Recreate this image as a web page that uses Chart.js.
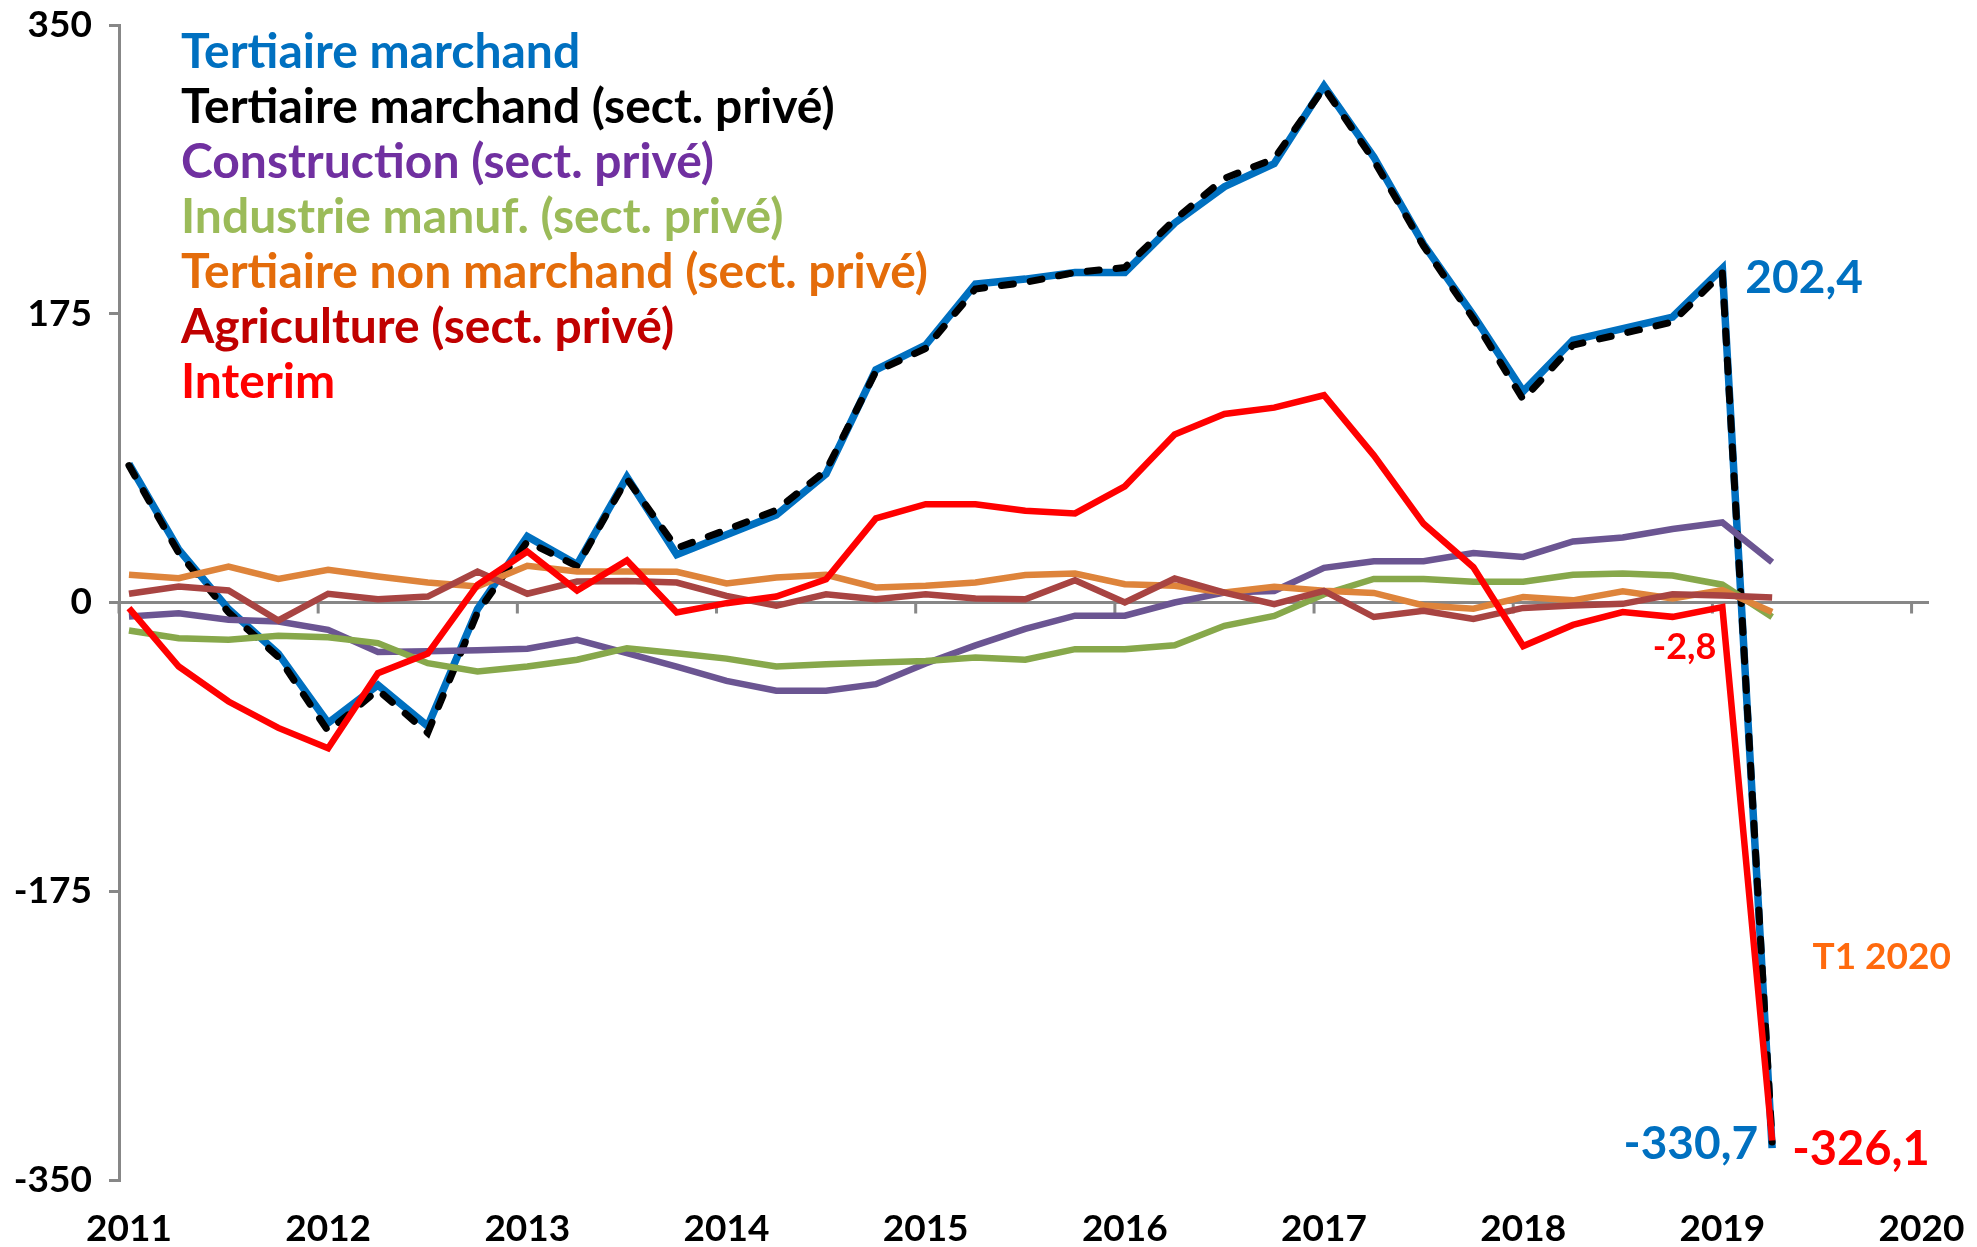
<!DOCTYPE html>
<html lang="fr">
<head>
<meta charset="utf-8">
<title>Emploi salarié par secteur</title>
<script src="https://cdn.jsdelivr.net/npm/chart.js@4.4.1/dist/chart.umd.min.js"></script>
<style>
  html, body { margin: 0; padding: 0; background: #fff; }
  #wrap { width: 1977px; height: 1247px; position: relative; }
</style>
</head>
<body>
<div id="wrap"><canvas id="emploiChart"></canvas></div>
<script>
// Variations trimestrielles par secteur, une valeur par trimestre jusqu'à T1 2020
const tertiaireMarchand = [84, 32, -4, -31, -73, -50, -75, -4, 40, 23, 76, 29, 41, 53, 78, 141, 156, 193, 196, 200, 200, 230, 252, 266, 313, 270, 217, 174, 128, 159, 166, 173, 202.4, -330.7];
const tertiaireMarchandPrive = [83, 30, -6, -33, -78, -53, -79, -6, 37, 22, 75, 33, 44, 56, 80, 140, 154, 190, 194, 200, 203, 232, 257, 269, 312, 268, 216, 172, 123, 156, 163, 170, 199.7, -327];
const construction = [-8.5, -6.5, -10.5, -11.5, -16.6, -30, -29.5, -29, -28, -22.6, -30.7, -38.8, -47.5, -53.5, -53.5, -49.5, -37, -26, -16, -8, -8, 0, 6, 7, 21, 25, 25, 30, 27.6, 37, 39.4, 44.5, 48.5, 24.4];
const industrieManuf = [-17, -21.6, -22.6, -20.2, -21, -24.6, -36.8, -41.8, -38.8, -34.7, -27.7, -30.7, -34, -38.8, -37.4, -36.4, -35.4, -33.3, -34.7, -28.3, -28.3, -25.9, -14.1, -8.1, 5, 14.3, 14.3, 12.6, 12.6, 16.8, 17.6, 16.3, 10.8, -8.8];
const tertiaireNonMarchand = [16.8, 14.7, 21.8, 14.3, 19.8, 15.8, 12.1, 9.7, 22.2, 18.8, 18.8, 18.6, 11.5, 15.2, 16.8, 9.1, 10.1, 12.1, 16.6, 17.6, 11.1, 10.1, 6.1, 9.5, 7.1, 5.8, -1.8, -3.8, 3.3, 1.3, 6.8, 2.5, 7.5, -5.8];
const agriculture = [5.3, 9.7, 7.3, -10.9, 5.3, 2, 3.6, 18.8, 5.3, 12.7, 13.1, 12.1, 4, -2, 5, 2, 5, 2.4, 2, 13.5, 0, 14.5, 6, -1, 7, -8.8, -5, -10, -3.3, -1.8, -0.8, 5, 4.3, 3];
const interim = [-3.4, -38.8, -60, -76, -88.3, -42.8, -31, 10.7, 30.9, 7.3, 25.5, -6, -0.4, 3.6, 14.1, 51, 59.6, 59.6, 55.6, 54, 70.4, 101.8, 114.3, 118.1, 125.6, 89.2, 47.7, 21.4, -26.4, -13.6, -5.8, -8.7, -2.8, -326.1];

const yearLabels = ['2011', '2012', '2013', '2014', '2015', '2016', '2017', '2018', '2019', '2020'];
const yTicks = [-350, -175, 0, 175, 350];

const seriesNames = [
    'Tertiaire marchand',
    'Tertiaire marchand (sect. privé)',
    'Construction (sect. privé)',
    'Industrie manuf. (sect. privé)',
    'Tertiaire non marchand (sect. privé)',
    'Agriculture (sect. privé)',
    'Interim'
];
const legendColors = ['#0070C0', '#000000', '#7030A0', '#9BBB59', '#E46C0A', '#C00000', '#FF0000'];
const lastQuarterLabel = 'T1 2020';

const FONT = 'Lato, "Open Sans", sans-serif';
const AXIS_GREY = '#878787';

// one quarter per unit on the x scale
function toPoints(values) {
    return values.map((v, i) => ({ x: i, y: v }));
}

function frNumber(v) {
    return v.toFixed(1).replace('.', ',');
}

// Zero line with its yearly tick marks, drawn across the middle of the plot
const zeroAxisPlugin = {
    id: 'zeroAxis',
    beforeDatasetsDraw(chart) {
        const { ctx, chartArea, scales } = chart;
        const y0 = scales.y.getPixelForValue(0);
        ctx.save();
        ctx.strokeStyle = AXIS_GREY;
        ctx.lineWidth = 3;
        ctx.beginPath();
        ctx.moveTo(chartArea.left, y0);
        ctx.lineTo(chartArea.right, y0);
        yearLabels.forEach((_, k) => {
            const x = scales.x.getPixelForValue(4 * k - 0.2);
            ctx.moveTo(x, y0);
            ctx.lineTo(x, y0 + 11);
        });
        ctx.stroke();
        ctx.restore();
    }
};

// Coloured series names stacked in the upper-left corner
const textLegendPlugin = {
    id: 'textLegend',
    afterDraw(chart) {
        const { ctx } = chart;
        ctx.save();
        ctx.font = `bold 48px ${FONT}`;
        ctx.textAlign = 'left';
        ctx.textBaseline = 'middle';
        seriesNames.forEach((name, i) => {
            ctx.fillStyle = legendColors[i];
            ctx.fillText(name, 181, 53 + i * 55);
        });
        ctx.restore();
    }
};

// Value labels next to the last two quarters, plus the quarter tag
const calloutPlugin = {
    id: 'callouts',
    afterDraw(chart) {
        const { ctx, scales } = chart;
        const n = tertiaireMarchand.length;
        const items = [
            { x: n - 2, v: tertiaireMarchand[n - 2], color: '#0070C0', size: 46, align: 'left', dx: 23, dy: 10 },
            { x: n - 1, v: tertiaireMarchand[n - 1], color: '#0070C0', size: 46, align: 'right', dx: -14, dy: -4 },
            { x: n - 2, v: interim[n - 2], color: '#FF0000', size: 36, align: 'right', dx: -6, dy: 40 },
            { x: n - 1, v: interim[n - 1], color: '#FF0000', size: 47, align: 'left', dx: 20, dy: 9 }
        ];
        ctx.save();
        ctx.textBaseline = 'middle';
        items.forEach(it => {
            ctx.font = `bold ${it.size}px ${FONT}`;
            ctx.fillStyle = it.color;
            ctx.textAlign = it.align;
            ctx.fillText(frNumber(it.v), scales.x.getPixelForValue(it.x) + it.dx, scales.y.getPixelForValue(it.v) + it.dy);
        });
        ctx.font = `bold 37px ${FONT}`;
        ctx.fillStyle = '#FF6A0E';
        ctx.textAlign = 'center';
        ctx.fillText(lastQuarterLabel, scales.x.getPixelForValue(35.2), scales.y.getPixelForValue(-215));
        ctx.restore();
    }
};

function lineSet(label, values, color, width, order, dash) {
    return {
        label: label,
        data: toPoints(values),
        borderColor: color,
        backgroundColor: color,
        borderWidth: width,
        borderDash: dash || [],
        borderCapStyle: dash ? 'round' : 'butt',
        pointRadius: 0,
        tension: 0,
        fill: false,
        order: order
    };
}

function drawChart() {
    const ctx = document.getElementById('emploiChart').getContext('2d');
    new Chart(ctx, {
        type: 'line',
        data: {
            datasets: [
                lineSet(seriesNames[0], tertiaireMarchand, '#0070C0', 7.5, 6),
                lineSet(seriesNames[1], tertiaireMarchandPrive, '#000000', 7, 5, [12, 17]),
                lineSet(seriesNames[2], construction, '#6B5592', 6.5, 4),
                lineSet(seriesNames[3], industrieManuf, '#87A84B', 6.5, 3),
                lineSet(seriesNames[4], tertiaireNonMarchand, '#DE843B', 6.5, 2),
                lineSet(seriesNames[5], agriculture, '#A84442', 6.5, 1),
                lineSet(seriesNames[6], interim, '#FF0000', 6.5, 0)
            ]
        },
        options: {
            responsive: true,
            maintainAspectRatio: false,
            animation: false,
            devicePixelRatio: 1,
            layout: { padding: { top: 25, right: 48, left: 0, bottom: 0 } },
            plugins: {
                legend: { display: false },
                tooltip: { enabled: false }
            },
            scales: {
                x: {
                    type: 'linear',
                    min: -0.2,
                    max: 36.15,
                    afterBuildTicks: s => { s.ticks = yearLabels.map((_, k) => ({ value: 4 * k })); },
                    afterFit: s => { s.height = 67; s.paddingLeft = 0; s.paddingRight = 0; },
                    grid: { display: false, drawTicks: false },
                    border: { display: false },
                    ticks: {
                        padding: 27,
                        color: '#000',
                        maxRotation: 0,
                        autoSkip: false,
                        font: { family: FONT, weight: 'bold', size: 37 },
                        callback: v => yearLabels[Math.round(v / 4)]
                    }
                },
                y: {
                    min: -350,
                    max: 350,
                    afterBuildTicks: s => { s.ticks = yTicks.map(v => ({ value: v })); },
                    afterFit: s => { s.width = 119; s.paddingTop = 0; s.paddingBottom = 0; },
                    grid: { drawOnChartArea: false, drawTicks: true, tickLength: 10, color: AXIS_GREY, lineWidth: 3 },
                    border: { color: AXIS_GREY, width: 3 },
                    ticks: {
                        padding: 17,
                        color: '#000',
                        font: { family: FONT, weight: 'bold', size: 37 },
                        callback: v => String(v)
                    }
                }
            }
        },
        plugins: [zeroAxisPlugin, textLegendPlugin, calloutPlugin]
    });
}

document.fonts.load(`bold 40px ${FONT}`).then(drawChart, drawChart);
</script>
</body>
</html>
